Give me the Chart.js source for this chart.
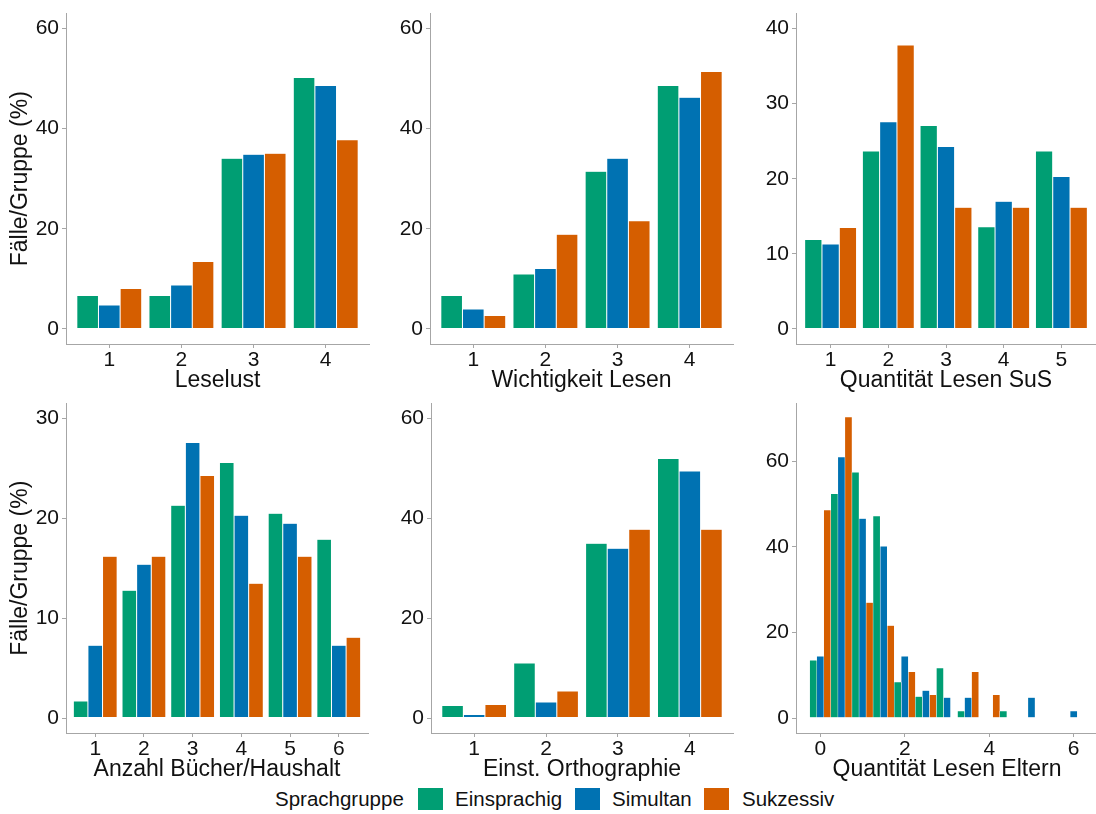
<!DOCTYPE html>
<html>
<head>
<meta charset="utf-8">
<script src="https://cdn.jsdelivr.net/npm/chart.js@4.4.4/dist/chart.umd.min.js"></script>
<style>
  html, body { margin: 0; padding: 0; background: #fff; width: 1096px; height: 814px; overflow: hidden; }
  canvas { position: absolute; }
  .lg { position: absolute; font: 20.5px "Liberation Sans", Arial, sans-serif; color: #111; line-height: 22px; top: 788px; white-space: nowrap; }
  .key { position: absolute; top: 788px; width: 25px; height: 22px; }
</style>
</head>
<body>

<canvas id="p1"></canvas>
<canvas id="p2"></canvas>
<canvas id="p3"></canvas>
<canvas id="p4"></canvas>
<canvas id="p5"></canvas>
<canvas id="p6"></canvas>

<div class="lg" style="left:275px">Sprachgruppe</div>
<div class="key" style="left:418px;background:#009E73"></div>
<div class="lg" style="left:455px">Einsprachig</div>
<div class="key" style="left:575px;background:#0072B2"></div>
<div class="lg" style="left:612px">Simultan</div>
<div class="key" style="left:704px;background:#D55E00"></div>
<div class="lg" style="left:742px">Sukzessiv</div>

<script>
/* ── Data ─────────────────────────────────────────────────────────── */
const GROUPS = ["Einsprachig", "Simultan", "Sukzessiv"];
const COLORS = ["#009E73", "#0072B2", "#D55E00"];

const leselustCats = [1, 2, 3, 4];
const leselustEin  = [6.7, 6.7, 34.1, 50.2];
const leselustSim  = [4.8, 8.8, 34.9, 48.6];
const leselustSuk  = [8.1, 13.5, 35.1, 37.8];

const wichtigCats = [1, 2, 3, 4];
const wichtigEin  = [6.7, 11.0, 31.5, 48.6];
const wichtigSim  = [4.0, 12.1, 34.1, 46.3];
const wichtigSuk  = [2.7, 18.9, 21.6, 51.4];

const susCats = [1, 2, 3, 4, 5];
const susEin  = [11.9, 23.7, 27.1, 13.6, 23.7];
const susSim  = [11.3, 27.6, 24.3, 17.0, 20.3];
const susSuk  = [13.5, 37.8, 16.2, 16.2, 16.2];

const buecherCats = [1, 2, 3, 4, 5, 6];
const buecherEin  = [1.7, 12.8, 21.3, 25.6, 20.5, 17.9];
const buecherSim  = [7.3, 15.4, 27.6, 20.3, 19.5, 7.3];
const buecherSuk  = [16.2, 16.2, 24.3, 13.5, 16.2, 8.1];

const orthoCats = [1, 2, 3, 4];
const orthoEin  = [2.5, 11.0, 35.0, 52.0];
const orthoSim  = [0.7, 3.2, 34.0, 49.5];
const orthoSuk  = [2.7, 5.4, 37.8, 37.8];

// histogram bins (width 0.5) for Quantität Lesen Eltern
const elternBins = [0, 0.5, 1, 1.5, 2, 2.5, 3, 3.5, 4, 4.5, 5, 5.5, 6];
const elternEin  = [13.5, 52.4, 57.4, 47.2, 8.4, 5.0, 11.7, 1.6, 0, 1.6, 0, 0, 0];
const elternSim  = [14.4, 61.0, 46.6, 40.1, 14.4, 6.4, 4.8, 4.8, 0, 0, 4.8, 0, 1.6];
const elternSuk  = [48.6, 70.3, 27.0, 21.6, 10.8, 5.4, 0, 10.8, 5.4, 0, 0, 0, 0];

const ticks60 = [0, 20, 40, 60];
const ticks40 = [0, 10, 20, 30, 40];
const ticks30 = [0, 10, 20, 30];
const ticksEltern = [0, 20, 40, 60];
const xTicksEltern = [0, 2, 4, 6];

const Y_TITLE = "Fälle/Gruppe (%)";

/* ── Panels ───────────────────────────────────────────────────────── */
const AXIS = "#a6a6a6";
const TXT  = "#111111";
const FONT = '"Liberation Sans", Arial, sans-serif';
Chart.defaults.font.family = FONT;

const Y_W = 66, X_H = 50, PAD_TOP = 8, PAD_RIGHT = 2;

function makePanel(p) {
  const el = document.getElementById(p.id);
  const w = Y_W + p.plotW + PAD_RIGHT, h = PAD_TOP + p.plotH + X_H;
  el.width = w; el.height = h;
  el.style.left = p.left + "px"; el.style.top = p.top + "px";
  el.style.width = w + "px"; el.style.height = h + "px";

  new Chart(el, {
    type: "bar",
    data: {
      datasets: p.series.map((vals, i) => ({
        label: GROUPS[i],
        data: p.cats.map((c, j) => ({ x: c, y: vals[j] })),
        backgroundColor: COLORS[i],
        borderColor: "#ffffff",
        borderWidth: 0.5,
        borderSkipped: false,
        categoryPercentage: p.catPct,
        barPercentage: 1
      }))
    },
    options: {
      responsive: false,
      animation: false,
      events: [],
      layout: { padding: { top: PAD_TOP, right: PAD_RIGHT, bottom: 0, left: 0 } },
      plugins: { legend: { display: false }, tooltip: { enabled: false } },
      scales: {
        x: {
          type: "linear", min: p.xMin, max: p.xMax, offset: false,
          afterBuildTicks: s => { s.ticks = p.xTicks.map(v => ({ value: v })); },
          afterFit: s => { s.height = X_H; },
          grid: { display: true, offset: false, drawOnChartArea: false, drawTicks: true, tickLength: 4, color: AXIS },
          border: { display: true, color: AXIS, width: 1 },
          ticks: { font: { size: 21, lineHeight: 1 }, color: TXT, padding: 1.5, maxRotation: 0, autoSkip: false, callback: v => String(v) },
          title: { display: true, text: p.xTitle, color: TXT, font: { size: 23, lineHeight: 1.2 }, padding: 0 }
        },
        y: {
          type: "linear", min: p.yMin, max: p.yMax,
          afterBuildTicks: s => { s.ticks = p.yTicks.map(v => ({ value: v })); },
          afterFit: s => { s.width = Y_W; },
          grid: { display: true, drawOnChartArea: false, drawTicks: true, tickLength: 4, color: AXIS },
          border: { display: true, color: AXIS, width: 1 },
          ticks: { font: { size: 21, lineHeight: 1 }, color: TXT, padding: 3, autoSkip: false, callback: v => String(v) },
          title: p.yTitle
            ? { display: true, text: p.yTitle, color: TXT, font: { size: 23, lineHeight: 1.2 }, padding: { top: 7, bottom: 0 } }
            : { display: false }
        }
      }
    }
  });
}

makePanel({ id: "p1", left: 0, top: 0, plotW: 303, plotH: 336, cats: leselustCats,
  series: [leselustEin, leselustSim, leselustSuk], catPct: 0.9,
  xMin: 0.4, xMax: 4.6, xTicks: leselustCats, yMin: -3, yMax: 63, yTicks: ticks60,
  xTitle: "Leselust", yTitle: Y_TITLE });

makePanel({ id: "p2", left: 364, top: 0, plotW: 303, plotH: 336, cats: wichtigCats,
  series: [wichtigEin, wichtigSim, wichtigSuk], catPct: 0.9,
  xMin: 0.4, xMax: 4.6, xTicks: wichtigCats, yMin: -3, yMax: 63, yTicks: ticks60,
  xTitle: "Wichtigkeit Lesen" });

makePanel({ id: "p3", left: 730, top: 0, plotW: 300, plotH: 336, cats: susCats,
  series: [susEin, susSim, susSuk], catPct: 0.9,
  xMin: 0.4, xMax: 5.6, xTicks: susCats, yMin: -2, yMax: 42, yTicks: ticks40,
  xTitle: "Quantität Lesen SuS" });

makePanel({ id: "p4", left: 0, top: 390, plotW: 302, plotH: 335, cats: buecherCats,
  series: [buecherEin, buecherSim, buecherSuk], catPct: 0.9,
  xMin: 0.4, xMax: 6.6, xTicks: buecherCats, yMin: -1.5, yMax: 31.5, yTicks: ticks30,
  xTitle: "Anzahl Bücher/Haushalt", yTitle: Y_TITLE });

makePanel({ id: "p5", left: 365, top: 390, plotW: 302, plotH: 335, cats: orthoCats,
  series: [orthoEin, orthoSim, orthoSuk], catPct: 0.9,
  xMin: 0.4, xMax: 4.6, xTicks: orthoCats, yMin: -3, yMax: 63, yTicks: ticks60,
  xTitle: "Einst. Orthographie" });

makePanel({ id: "p6", left: 730, top: 390, plotW: 302, plotH: 335, cats: elternBins,
  series: [elternEin, elternSim, elternSuk], catPct: 1.0,
  xMin: -0.575, xMax: 6.575, xTicks: xTicksEltern, yMin: -3.5, yMax: 73.5, yTicks: ticksEltern,
  xTitle: "Quantität Lesen Eltern" });
</script>
</body>
</html>
